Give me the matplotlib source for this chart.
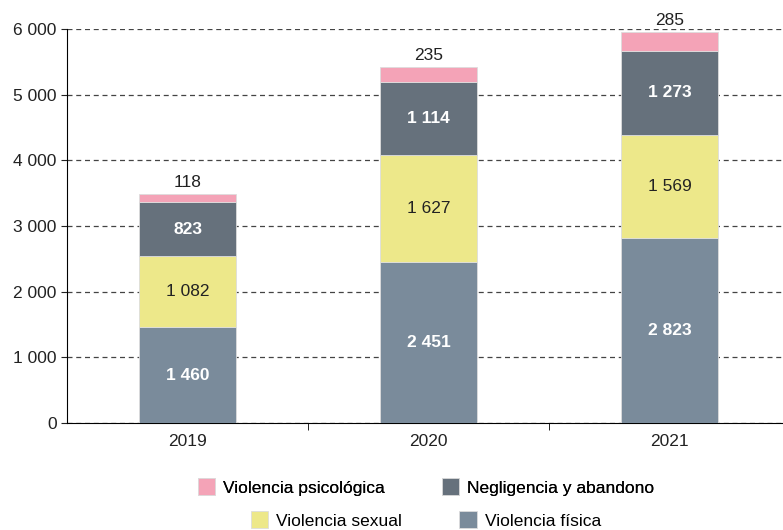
import matplotlib.pyplot as plt
import numpy as np

plt.rcParams['font.family'] = ['Liberation Sans', 'DejaVu Sans']

years = ["2019", "2020", "2021"]
fisica = [1460, 2451, 2823]
sexual = [1082, 1627, 1569]
negligencia = [823, 1114, 1273]
psicologica = [118, 235, 285]

series = [
    ("Violencia física", fisica, "#7a8b9b", "white", "bold"),
    ("Violencia sexual", sexual, "#ede88a", "#222222", "normal"),
    ("Negligencia y abandono", negligencia, "#66717c", "white", "bold"),
    ("Violencia psicológica", psicologica, "#f4a3b7", "#222222", "normal"),
]


def fmt(v):
    return f"{v:,}".replace(",", " ")


fig = plt.figure(figsize=(7.83, 5.30), dpi=100)
ax = fig.add_axes([67 / 783, 1 - 423 / 530, 723 / 783, (423 - 29) / 530])

x = np.arange(len(years))
bottom = np.zeros(len(years))
handles = {}
for name, vals, color, tcol, tw in series:
    bars = ax.bar(x, vals, 0.4, bottom=bottom, color=color, edgecolor="#dddddd",
                  linewidth=0.6, zorder=3, label=name)
    handles[name] = bars
    for xi, b, v in zip(x, bottom, vals):
        if name == "Violencia psicológica":
            ax.text(xi, b + v + 60, fmt(v), ha="center", va="bottom",
                    fontsize=12.5, color="#222222")
        else:
            ax.text(xi, b + v / 2, fmt(v), ha="center", va="center",
                    fontsize=12.5, color=tcol, fontweight=tw)
    bottom += np.array(vals)

ax.set_xlim(-0.5, 2.5)
ax.set_ylim(0, 6000)
ax.set_yticks(range(0, 6001, 1000))
ax.set_yticklabels([fmt(v) for v in range(0, 6001, 1000)])
ax.yaxis.grid(True, linestyle=(0, (4, 3)), color="#444444", linewidth=0.9, zorder=0)
ax.set_xticks(x)
ax.set_xticklabels(years)
ax.set_xticks([0.5, 1.5], minor=True)
ax.tick_params(axis="x", which="major", length=0, labelsize=12.5, pad=8, colors="#222222")
ax.tick_params(axis="x", which="minor", length=5, direction="out")
ax.tick_params(axis="y", length=4, labelsize=12.5, colors="#222222")
for s in ["top", "right"]:
    ax.spines[s].set_visible(False)
ax.spines["left"].set_color("black")
ax.spines["bottom"].set_color("black")

leg_kw = dict(ncol=2, loc="center", frameon=False, fontsize=12.5, handlelength=1.0,
              handleheight=1.15, handletextpad=0.45, columnspacing=3.3)
leg1 = fig.legend([handles["Violencia psicológica"], handles["Negligencia y abandono"]],
                  ["Violencia psicológica", "Negligencia y abandono"],
                  bbox_to_anchor=(426 / 783, 1 - 487 / 530), **leg_kw)
leg2 = fig.legend([handles["Violencia sexual"], handles["Violencia física"]],
                  ["Violencia sexual", "Violencia física"],
                  bbox_to_anchor=(426 / 783, 1 - 520 / 530), **leg_kw)
fig.add_artist(leg1)

fig.savefig("out.png", dpi=100)
